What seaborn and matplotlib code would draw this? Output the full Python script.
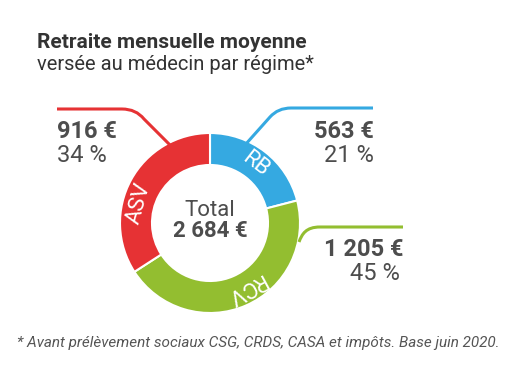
import matplotlib
matplotlib.use("Agg")
import matplotlib.pyplot as plt
from matplotlib.path import Path
from matplotlib.patches import PathPatch
import seaborn as sns
import numpy as np

# data
regimes = ["RB", "RCV", "ASV"]
montants = [563, 1205, 916]
pourcents = [21, 45, 34]
total = 2684
couleurs = ["#35A9E1", "#93BE30", "#E63234"]

sns.set_theme(style="white")
plt.rcParams['font.family'] = ['Roboto', 'DejaVu Sans']
GRIS = "#4d4d4d"

W, H = 512, 371
fig = plt.figure(figsize=(W / 100, H / 100), dpi=100)
ax = fig.add_axes([0, 0, 1, 1])

def Y(y):  # image coords -> axes coords
    return H - y

cx, cy = 210, Y(223)
R, r = 90, 58

wedges, _ = ax.pie(montants, colors=couleurs, startangle=90, counterclock=False,
                   radius=R, center=(cx, cy), frame=True,
                   wedgeprops=dict(width=R - r, edgecolor="white", linewidth=1.5))
ax.set_xlim(0, W)
ax.set_ylim(0, H)
ax.set_aspect("equal")
ax.axis("off")

# ring labels, tangent to the ring (shifted a bit like the original)
decalage = {"RB": 0, "RCV": 5, "ASV": 13}
for w, lab in zip(wedges, regimes):
    mid = (w.theta1 + w.theta2) / 2 + decalage[lab]
    rm = (R + r) / 2
    x = cx + rm * np.cos(np.radians(mid))
    y = cy + rm * np.sin(np.radians(mid))
    ax.text(x, y, lab, color="white", fontsize=16, rotation=mid - 90,
            ha="center", va="center", rotation_mode="anchor")

ax.text(cx, Y(211), "Total", color=GRIS, fontsize=16, ha="center", va="center")
ax.text(cx, Y(231), f"{total:,} €".replace(",", " "), color=GRIS, fontsize=16,
        fontweight="bold", ha="center", va="center")

# leader lines
def leader(pts, codes, col):
    p = Path([(x, Y(y)) for x, y in pts], codes)
    ax.add_patch(PathPatch(p, fill=False, edgecolor=col, lw=2.2))

leader([(57, 109), (122, 109), (136, 109), (144, 119), (170, 145)],
       [Path.MOVETO, Path.LINETO, Path.CURVE3, Path.CURVE3, Path.LINETO], couleurs[2])
leader([(373, 108), (291, 108), (278, 108), (270, 117), (245, 145)],
       [Path.MOVETO, Path.LINETO, Path.CURVE3, Path.CURVE3, Path.LINETO], couleurs[0])
leader([(403, 227), (320, 227), (306, 227), (302, 234), (299, 242)],
       [Path.MOVETO, Path.LINETO, Path.CURVE4, Path.CURVE4, Path.CURVE4], couleurs[1])

# value labels
def fmt(v):
    return f"{v:,} €".replace(",", " ")

ax.text(57, Y(132), fmt(montants[2]), color=GRIS, fontsize=17, fontweight="bold", ha="left", va="center")
ax.text(57, Y(156), f"{pourcents[2]} %", color=GRIS, fontsize=17, ha="left", va="center")
ax.text(374, Y(132), fmt(montants[0]), color=GRIS, fontsize=17, fontweight="bold", ha="right", va="center")
ax.text(374, Y(156), f"{pourcents[0]} %", color=GRIS, fontsize=17, ha="right", va="center")
ax.text(403, Y(250), fmt(montants[1]), color=GRIS, fontsize=17, fontweight="bold", ha="right", va="center")
ax.text(400, Y(274), f"{pourcents[1]} %", color=GRIS, fontsize=17, ha="right", va="center")

# title & footnote
ax.text(37, Y(42), "Retraite mensuelle moyenne", color="#333333", fontsize=15,
        fontweight="bold", ha="left", va="center")
ax.text(37, Y(65), "versée au médecin par régime*", color="#333333", fontsize=14.5,
        ha="left", va="center")
ax.text(17, Y(343), "* Avant prélèvement sociaux CSG, CRDS, CASA et impôts. Base juin 2020.",
        color="#555555", fontsize=11, style="italic", ha="left", va="center")

fig.savefig("out.png", dpi=100)
